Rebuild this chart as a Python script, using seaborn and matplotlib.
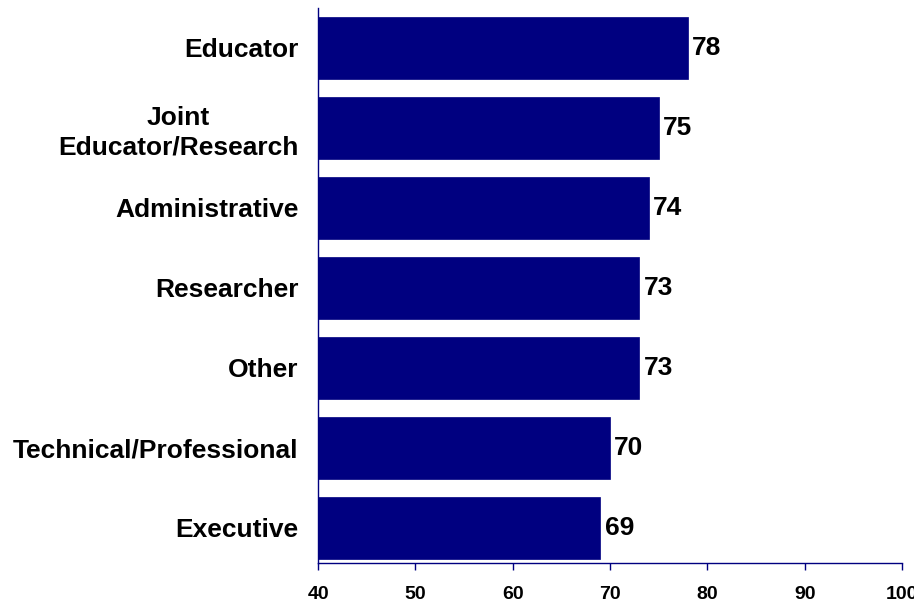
import matplotlib
matplotlib.use("Agg")
import matplotlib.pyplot as plt
import seaborn as sns
import pandas as pd

categories = ["Educator", "Joint\nEducator/Research", "Administrative", "Researcher",
              "Other", "Technical/Professional", "Executive"]
values = [78, 75, 74, 73, 73, 70, 69]
xticks = [40, 50, 60, 70, 80, 90, 100]

sns.set_theme(style="white")
plt.rcParams['font.family'] = ['Liberation Sans', 'DejaVu Sans']
plt.rcParams['text.color'] = 'black'
plt.rcParams['xtick.color'] = 'black'
plt.rcParams['ytick.color'] = 'black'

df = pd.DataFrame({"category": categories, "value": values})

fig = plt.figure(figsize=(9.14, 6.02), dpi=100)
ax = fig.add_axes([0.348, 0.065, 0.639, 0.922])

navy = "#000080"
sns.barplot(data=df, x="value", y="category", orient="h", color=navy,
            saturation=1, width=0.775, ax=ax, edgecolor=navy, linewidth=0.5)

ax.set_xlim(40, 100)
ax.set_ylim(6.44, -0.5)
ax.set_xticks(xticks)
ax.set_xticklabels([str(t) for t in xticks], fontsize=14, fontweight="bold", color="black")
ax.set_xlabel("")
ax.set_ylabel("")

for lbl in ax.get_yticklabels():
    lbl.set_fontsize(19)
    lbl.set_fontweight("bold")
    lbl.set_color("black")
    lbl.set_multialignment("center")
    lbl.set_linespacing(1.25)

ax.tick_params(axis="y", left=False, length=0, pad=14)
ax.tick_params(axis="x", bottom=True, direction="out", length=5, width=1,
               color=navy, labelcolor="black", pad=12)

for s in ["top", "right"]:
    ax.spines[s].set_visible(False)
for s in ["left", "bottom"]:
    ax.spines[s].set_color(navy)
    ax.spines[s].set_linewidth(1)

for i, v in enumerate(values):
    ax.annotate(str(v), xy=(v, i), xytext=(3, 0), textcoords="offset points",
                ha="left", va="center", fontsize=19, fontweight="bold", color="black")

fig.savefig("out.png", dpi=100)
